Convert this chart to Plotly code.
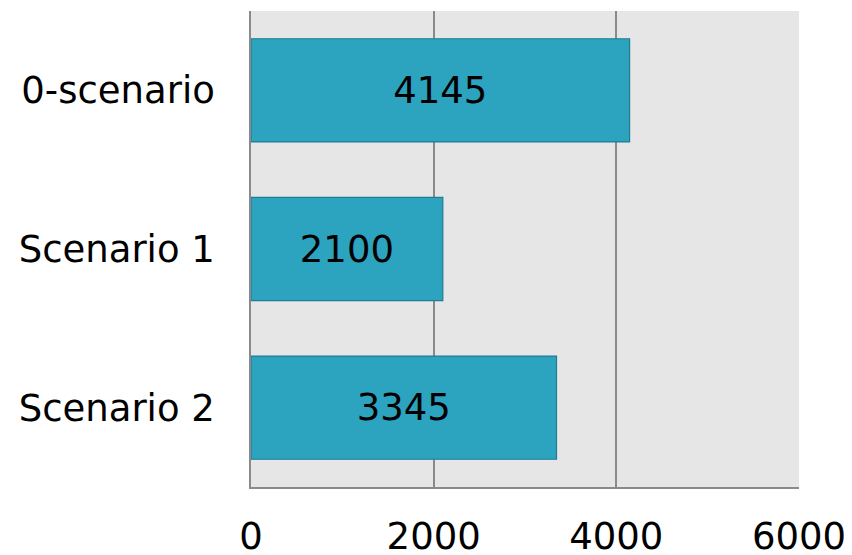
import plotly.graph_objects as go

categories = ["0-scenario", "Scenario 1", "Scenario 2"]
values = [4145, 2100, 3345]
x_ticks = [0, 2000, 4000, 6000]

FONT = "DejaVu Sans, Verdana, sans-serif"
FS = 37

fig = go.Figure(go.Bar(
    y=categories, x=values, orientation="h",
    marker=dict(color="#2ca3bf", line=dict(color="#1f7c93", width=1.2)),
    text=[str(v) for v in values], textposition="inside",
    insidetextanchor="middle",
    textfont=dict(family=FONT, size=FS, color="black"),
))

fig.update_layout(
    width=844, height=547,
    margin=dict(l=243, r=53, t=3, b=68),
    paper_bgcolor="white", plot_bgcolor="#e6e6e6",
    bargap=0.35, showlegend=False,
    font=dict(family=FONT, size=FS, color="black"),
)
fig.update_xaxes(
    range=[0, 6000], tickvals=x_ticks, ticktext=[str(t) for t in x_ticks],
    showgrid=True, gridcolor="#8a8a8a", gridwidth=1.5,
    zeroline=False, showline=True, linecolor="#8a8a8a", linewidth=1.5,
    ticks="outside", ticklen=16, tickcolor="rgba(0,0,0,0)",
    tickfont=dict(family=FONT, size=FS, color="black"), automargin=False,
)
fig.update_yaxes(
    autorange="reversed", categoryorder="array", categoryarray=categories,
    showgrid=False, showline=True, linecolor="#8a8a8a", linewidth=1.5,
    ticks="outside", ticklen=27, tickcolor="rgba(0,0,0,0)",
    tickfont=dict(family=FONT, size=FS, color="black"), automargin=False,
)

fig.write_html("out.html")
